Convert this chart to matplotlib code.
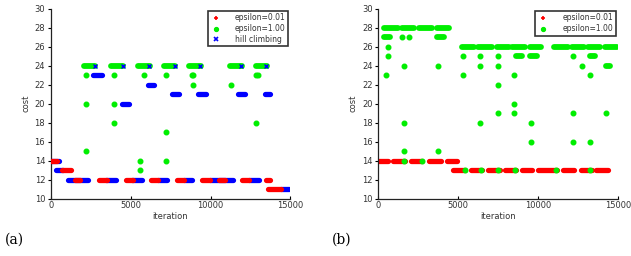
import numpy as np
import matplotlib
matplotlib.use("Agg")
import matplotlib.pyplot as plt
from matplotlib.lines import Line2D

# runs of consecutive iterations: (first iteration, last iteration, cost)
# single points: (iteration, cost)

# ---- panel (a) ----
eps001_a_runs = [
    (0, 420, 14), (690, 1250, 13), (1520, 1850, 12), (3020, 3500, 12),
    (4710, 5120, 12), (6270, 6730, 12), (7875, 8330, 12), (9480, 9960, 12),
    (10560, 10880, 12), (11980, 12415, 12), (13500, 13750, 12), (13620, 14440, 11),
]
eps100_a_runs = [
    (2080, 2750, 24), (3790, 4520, 24), (5460, 6190, 24), (7080, 7770, 24),
    (8660, 9375, 24), (11200, 11940, 24), (12830, 13540, 24),
]
eps100_a_points = [
    (2190, 23), (2190, 20), (2190, 15), (3960, 23), (3960, 20), (3960, 18),
    (5830, 23), (5560, 14), (5560, 13), (7230, 23), (7190, 17), (7190, 14),
    (8810, 23), (8920, 23), (8920, 22), (11270, 22), (12850, 23), (12950, 23),
    (12870, 18),
]
hill_a_runs = [
    (0, 540, 14), (330, 800, 13), (1080, 2320, 12), (3480, 4060, 12),
    (5100, 5690, 12), (6710, 7270, 12), (8330, 8870, 12), (9940, 11420, 12),
    (12420, 13020, 12), (14380, 14940, 11), (2640, 3200, 23), (4460, 4870, 20),
    (6080, 6460, 22), (7620, 8040, 21), (9190, 9690, 21), (11730, 12140, 21),
    (13400, 13710, 21),
]
hill_a_points = [
    (2750, 24), (4520, 24), (6150, 24), (7770, 24), (9330, 24), (11880, 24),
    (13500, 24),
]

# ---- panel (b) ----
eps001_b_runs = [
    (0, 590, 14), (940, 1670, 14), (2040, 2750, 14), (3170, 3920, 14),
    (4270, 4900, 14), (4690, 5420, 13), (5800, 6460, 13), (6875, 7600, 13),
    (7920, 8590, 13), (8960, 9625, 13), (10000, 11170, 13), (11560, 12250, 13),
    (12670, 13340, 13), (13650, 14375, 13),
]
eps100_b_runs = [
    (375, 1210, 28), (1460, 2250, 28), (2560, 3375, 28), (3670, 4420, 28),
    (375, 730, 27), (3670, 4100, 27),
    (5210, 6000, 26), (6250, 7090, 26), (7400, 8170, 26), (8375, 9170, 26),
    (9460, 10170, 26), (11000, 11840, 26), (12090, 12840, 26), (13125, 13875, 26),
    (14170, 14920, 26),
    (8610, 9000, 25), (9500, 9900, 25), (13230, 13540, 25), (14270, 14480, 24),
]
eps100_b_points = [
    (1480, 27), (1920, 27), (590, 26), (590, 25), (480, 23),
    (1590, 24), (1590, 18), (1625, 15), (1625, 14), (2710, 14),
    (3750, 24), (3750, 15),
    (5310, 25), (5310, 23), (5400, 13),
    (6375, 25), (6375, 24), (6375, 18), (6420, 13),
    (7460, 25), (7460, 24), (7460, 22), (7460, 19), (7460, 13),
    (8500, 23), (8500, 20), (8500, 19), (8540, 13),
    (9540, 18), (9540, 16), (11100, 13),
    (12190, 25), (12190, 19), (12150, 16), (12750, 24),
    (13230, 23), (13230, 16), (13230, 13), (14270, 19),
]

RED = '#ff0000'
GREEN = '#00ee00'
BLUE = '#0000ff'
TXT = '#333333'


def draw_runs(ax, runs, color, lw, z):
    runs = np.array(runs, dtype=float)
    ax.hlines(runs[:, 2], runs[:, 0], runs[:, 1], colors=color,
              linewidth=lw, capstyle='round', zorder=z)


def draw_points(ax, pts, color, ms, z, marker='o'):
    pts = np.array(pts, dtype=float)
    ax.plot(pts[:, 0], pts[:, 1], ls='none', marker=marker, color=color,
            markersize=ms, markeredgewidth=1.0, zorder=z)


def style_axes(ax):
    ax.set_xlim(0, 15000)
    ax.set_ylim(10, 30)
    ax.set_xticks([0, 5000, 10000, 15000])
    ax.set_yticks(np.arange(10, 31, 2))
    for s in ['top', 'right']:
        ax.spines[s].set_visible(False)
    for s in ['left', 'bottom']:
        ax.spines[s].set_color('#222222')
        ax.spines[s].set_linewidth(0.9)
    ax.tick_params(axis='y', direction='out', length=2.5, width=0.8,
                   labelsize=6, labelcolor=TXT, pad=1.5)
    ax.tick_params(axis='x', direction='in', length=2.5, width=0.8,
                   labelsize=6, labelcolor=TXT, pad=2)
    ax.set_xlabel('iteration', fontsize=6, color=TXT, labelpad=1)
    ax.set_ylabel('cost', fontsize=6, color=TXT, labelpad=3)


def make_legend(ax, handles, labels):
    leg = ax.legend(handles, labels, loc='upper right', fontsize=5.5,
                    frameon=True, fancybox=False, borderaxespad=0.3,
                    handlelength=1.5, handletextpad=1.8, borderpad=0.3,
                    labelspacing=0.25, bbox_to_anchor=(1.0, 1.0))
    leg.get_frame().set_edgecolor('black')
    leg.get_frame().set_linewidth(1.2)
    for t in leg.get_texts():
        t.set_color(TXT)


fig = plt.figure(figsize=(6.31, 2.56), dpi=100)
ax_a = fig.add_axes([0.0803, 0.2238, 0.380, 0.742])
ax_b = fig.add_axes([0.5995, 0.2238, 0.380, 0.742])

# (a)
draw_runs(ax_a, eps100_a_runs, GREEN, 4.2, 2)
draw_points(ax_a, eps100_a_points, GREEN, 3.3, 2)
draw_runs(ax_a, hill_a_runs, BLUE, 3.8, 3)
draw_points(ax_a, hill_a_points, BLUE, 3.5, 3, marker='x')
draw_runs(ax_a, eps001_a_runs, RED, 3.8, 4)
style_axes(ax_a)
make_legend(ax_a, [
    Line2D([], [], ls='none', marker='+', color=RED, markersize=3.5, markeredgewidth=1.2),
    Line2D([], [], ls='none', marker='o', color=GREEN, markersize=2.8),
    Line2D([], [], ls='none', marker='x', color=BLUE, markersize=3, markeredgewidth=1.2),
], ['epsilon=0.01', 'epsilon=1.00', 'hill climbing'])

# (b)
draw_runs(ax_b, eps001_b_runs, RED, 3.8, 2)
draw_runs(ax_b, eps100_b_runs, GREEN, 4.2, 3)
draw_points(ax_b, eps100_b_points, GREEN, 3.3, 3)
style_axes(ax_b)
make_legend(ax_b, [
    Line2D([], [], ls='none', marker='+', color=RED, markersize=3.5, markeredgewidth=1.2),
    Line2D([], [], ls='none', marker='o', color=GREEN, markersize=2.8),
], ['epsilon=0.01', 'epsilon=1.00'])

fig.text(0.008, 0.062, '(a)', fontsize=10, family='DejaVu Serif', va='center')
fig.text(0.526, 0.062, '(b)', fontsize=10, family='DejaVu Serif', va='center')

fig.savefig('out.png', dpi=100)
